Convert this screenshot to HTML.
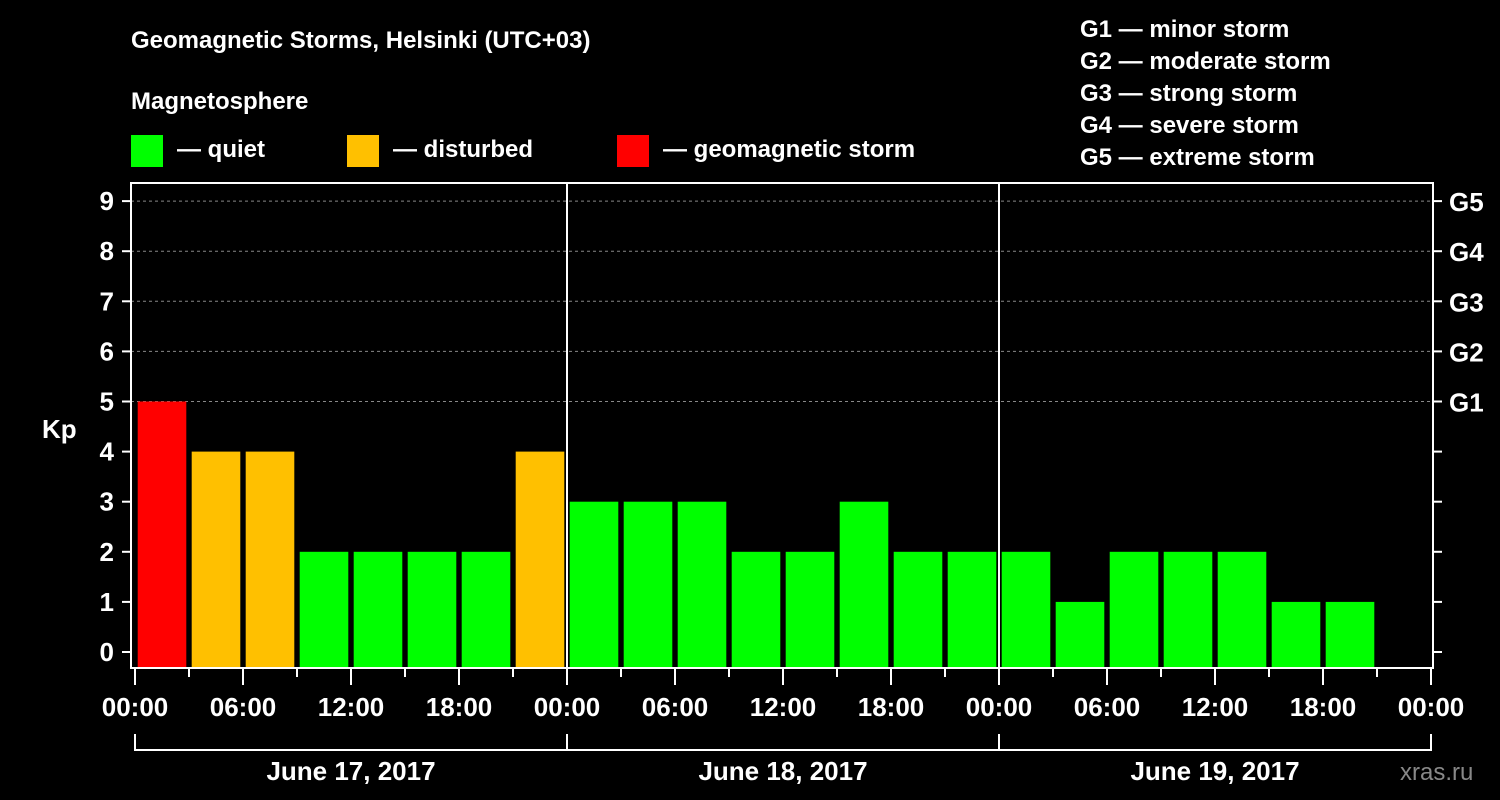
<!DOCTYPE html>
<html><head><meta charset="utf-8"><style>
body{margin:0;background:#000;width:1500px;height:800px;overflow:hidden}
svg{display:block;font-family:"Liberation Sans",Arial,sans-serif;font-weight:bold}
</style></head><body>
<svg id="chart" width="1500" height="800">
<rect width="1500" height="800" fill="#000"/>
<text x="131" y="48" fill="#fff" font-size="24">Geomagnetic Storms, Helsinki (UTC+03)</text>
<text x="131" y="109" fill="#fff" font-size="24">Magnetosphere</text>
<g><rect x="131" y="135" width="32" height="32" fill="#00ff00"/><text x="177" y="157" fill="#fff" font-size="24">— quiet</text></g>
<g><rect x="347" y="135" width="32" height="32" fill="#ffc000"/><text x="393" y="157" fill="#fff" font-size="24">— disturbed</text></g>
<g><rect x="617" y="135" width="32" height="32" fill="#ff0000"/><text x="663" y="157" fill="#fff" font-size="24">— geomagnetic storm</text></g>
<g fill="#fff" font-size="24">
<text x="1080" y="37">G1 — minor storm</text>
<text x="1080" y="69">G2 — moderate storm</text>
<text x="1080" y="101">G3 — strong storm</text>
<text x="1080" y="133">G4 — severe storm</text>
<text x="1080" y="165">G5 — extreme storm</text>
</g>
<text x="42" y="438" fill="#fff" font-size="26">Kp</text>
<text x="1400" y="780" fill="#888" font-size="24" font-weight="normal">xras.ru</text>
<g id="grid"></g><g id="bars"></g><g id="axes"></g>
</svg>
<script>
const kpValues=[5,4,4,2,2,2,2,4, 3,3,3,2,2,3,2,2, 2,1,2,2,2,1,1];
const dayLabels=["June 17, 2017","June 18, 2017","June 19, 2017"];
const hourLabels=["00:00","06:00","12:00","18:00"];
const gLabels=["G1","G2","G3","G4","G5"];
const NS="http://www.w3.org/2000/svg";
const L=131,R=1433,T=183,B=668,X0=135,pxH=18;
const y=v=>652-v*50.1;
const x=h=>X0+h*pxH;
function mk(tag,attrs,parent,txt){const e=document.createElementNS(NS,tag);for(const k in attrs)e.setAttribute(k,attrs[k]);if(txt!==undefined)e.textContent=txt;parent.appendChild(e);return e;}
const grid=document.getElementById('grid'),bars=document.getElementById('bars'),axes=document.getElementById('axes');
for(let v=5;v<=9;v++){const g=mk('line',{x1:L,x2:R,y1:y(v),y2:y(v),stroke:'#888','stroke-dasharray':'3,3','stroke-width':1},grid);

}
kpValues.forEach((v,i)=>{const c=v>=5?'#ff0000':v==4?'#ffc000':'#00ff00';
const r=mk('rect',{x:x(i*3)+2.7,width:48.6,y:y(v),height:B-y(v),fill:c},bars);

});
const fr=mk('rect',{x:L,y:T,width:R-L,height:B-T,fill:'none',stroke:'#fff','stroke-width':2},axes);


for(let d=1;d<3;d++){const l=mk('line',{x1:x(d*24),x2:x(d*24),y1:T,y2:B,stroke:'#fff','stroke-width':2},axes);

}
for(let v=0;v<=9;v++){mk('line',{x1:122,x2:L,y1:y(v),y2:y(v),stroke:'#fff','stroke-width':2},axes);
mk('line',{x1:R,x2:1442,y1:y(v),y2:y(v),stroke:'#fff','stroke-width':2},axes);
const t=mk('text',{x:114,y:y(v)+9,fill:'#fff','font-size':26,'text-anchor':'end'},axes,String(v));

}
gLabels.forEach((g,i)=>{const t=mk('text',{x:1449,y:y(5+i)+10,fill:'#fff','font-size':26},axes,g);

});
for(let h=0;h<=72;h+=3){const maj=h%6==0;mk('line',{x1:x(h),x2:x(h),y1:B,y2:maj?685:677,stroke:'#fff','stroke-width':2},axes);
if(maj){const t=mk('text',{x:x(h),y:716,fill:'#fff','font-size':26,'text-anchor':'middle'},axes,hourLabels[(h/6)%4]);

}}
mk('path',{d:`M${x(0)} 734V750H${x(72)}V734`,stroke:'#fff','stroke-width':2,fill:'none'},axes);
for(let d=1;d<3;d++)mk('line',{x1:x(d*24),x2:x(d*24),y1:734,y2:750,stroke:'#fff','stroke-width':2},axes);
dayLabels.forEach((s,i)=>{const t=mk('text',{x:x(i*24+12),y:780,fill:'#fff','font-size':26,'text-anchor':'middle'},axes,s);

});
</script>
</body></html>
